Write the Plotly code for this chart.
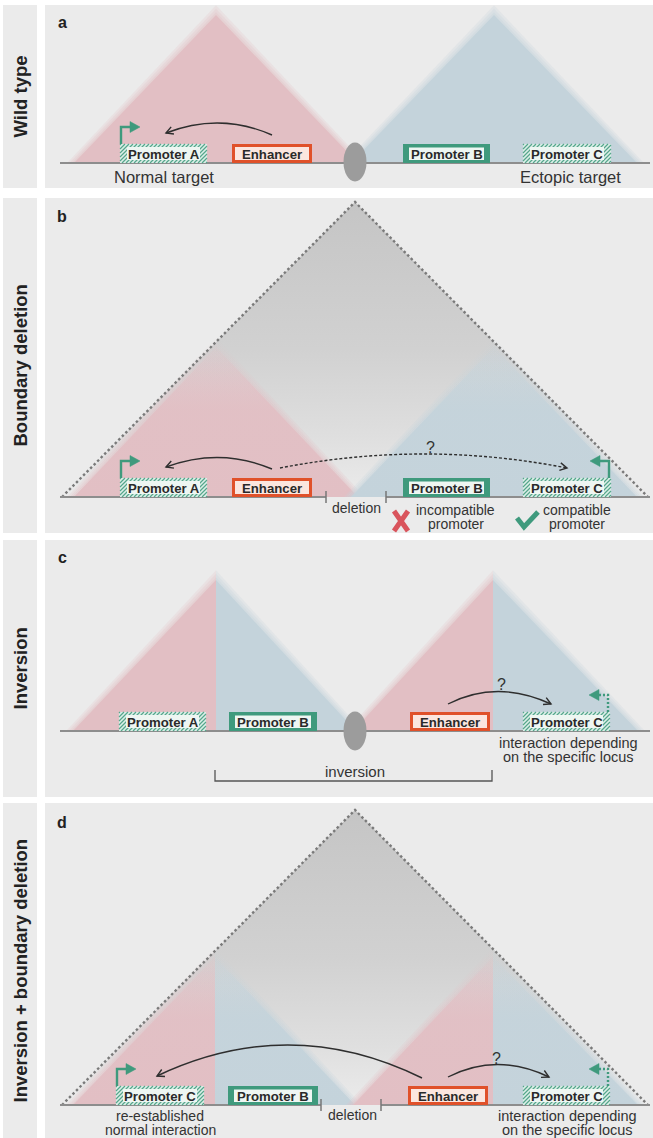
import math
import plotly.graph_objects as go

W, H = 653, 1138
FONT = "Liberation Sans, Arial, sans-serif"

# ---------------- data (labels / texts) ----------------
panel_letters = ["a", "b", "c", "d"]
panel_titles = ["Wild type", "Boundary deletion", "Inversion", "Inversion + boundary deletion"]

labels_a = ["Promoter A", "Enhancer", "Promoter B", "Promoter C"]
labels_b = ["Promoter A", "Enhancer", "Promoter B", "Promoter C"]
labels_c = ["Promoter A", "Promoter B", "Enhancer", "Promoter C"]
labels_d = ["Promoter C", "Promoter B", "Enhancer", "Promoter C"]
kinds_a = ["hatched", "enhancer", "solid", "hatched"]
kinds_b = ["hatched", "enhancer", "solid", "hatched"]
kinds_c = ["hatched", "solid", "enhancer", "hatched"]
kinds_d = ["hatched", "solid", "enhancer", "hatched"]

notes_a = ["Normal target", "Ectopic target"]
notes_b = ["deletion", ["incompatible", "promoter"], ["compatible", "promoter"]]
notes_c = [["interaction depending", "on the specific locus"], "inversion"]
notes_d = [["re-established", "normal interaction"], "deletion",
           ["interaction depending", "on the specific locus"]]
question_mark = "?"

# ---------------- geometry / style ----------------
PANEL_X = (45, 653)
STRIP_X = (3, 37)
PANEL_Y = [(5, 188), (198, 533), (540, 797), (803, 1138)]
BASE_Y = [163, 497, 731, 1105]
LINE_X = (60, 650)
BOX_H = 19
BOX_X = [
    [(120, 207), (232, 312), (403, 490), (523, 611)],
    [(120, 207), (232, 312), (403, 490), (523, 611)],
    [(119, 206), (229, 317), (410, 490), (523, 610)],
    [(116, 204), (228, 318), (408, 488), (523, 610)],
]

BG = "#ebebeb"
PINK = (226, 191, 196)
BLUE = (196, 211, 219)
GREEN = "#3f9a7d"
HATCH_BG = "#dcefe8"
HATCH_LN = "#56a68c"
LABEL_IN = "#eef6f2"
ORANGE = "#e0512a"
ENH_IN = "#fbe6df"
LINE_GRAY = "#8d8d8d"
DARK = "#2e2e2e"
TXT = "#333333"

shapes = []
annotations = []
fig = go.Figure()


def rgba(c, a):
    return f"rgba({c[0]},{c[1]},{c[2]},{a:.3f})"


def rect(x0, y0, x1, y1, fill, layer="above"):
    shapes.append(dict(type="rect", xref="x", yref="y", x0=x0, y0=y0, x1=x1, y1=y1,
                       fillcolor=fill, line=dict(width=0), layer=layer))


def path(d, color=None, width=0, fill=None, dash=None, layer="above"):
    ln = dict(width=width, color=color if color else "rgba(0,0,0,0)")
    if dash:
        ln["dash"] = dash
    shp = dict(type="path", xref="x", yref="y", path=d, line=ln, layer=layer)
    if fill:
        shp["fillcolor"] = fill
    shapes.append(shp)


def ann(text, x, y, size, color=TXT, bold=False, angle=0):
    annotations.append(dict(x=x, y=y, xref="x", yref="y",
                            text=f"<b>{text}</b>" if bold else text,
                            showarrow=False, xanchor="center", yanchor="middle",
                            textangle=angle,
                            font=dict(family=FONT, size=size, color=color)))


def tri_pts(side, ax, ay, hw, base, d):
    top = (ax, ay - 1.4 * d)
    if side == "full":
        pts = [(ax - hw - d, base), top, (ax + hw + d, base)]
    elif side == "left":
        pts = [(ax - hw - d, base), top, (ax, base)]
    else:
        pts = [(ax, base), top, (ax + hw + d, base)]
    pts.append(pts[0])
    return [p[0] for p in pts], [p[1] for p in pts]


def region(side, ax, ay, hw, base, rgb, top_fade=False):
    for d, a in [(7, 0.22), (4.5, 0.25), (2, 0.3), (0, 1.0)]:
        xs, ys = tri_pts(side, ax, ay, hw, base, d)
        kw = dict(x=xs, y=ys, fill="toself", mode="none", hoverinfo="skip", showlegend=False)
        if top_fade:
            kw["fillgradient"] = dict(type="vertical",
                                      colorscale=[[0, rgba(rgb, 0.1 * a)], [0.42, rgba(rgb, 0.9 * a)],
                                                  [1, rgba(rgb, a)]],
                                      start=ay - 1.4 * d, stop=base)
        else:
            kw["fillcolor"] = rgba(rgb, a)
        fig.add_trace(go.Scatter(**kw))


def big_gray(ax, ay, hw, base):
    xs, ys = tri_pts("full", ax, ay, hw, base, 0)
    fig.add_trace(go.Scatter(x=xs, y=ys, fill="toself", mode="none", hoverinfo="skip", showlegend=False,
                             fillgradient=dict(type="vertical",
                                               colorscale=[[0, "rgb(197,197,197)"], [0.5, "rgb(209,209,209)"],
                                                           [0.8, "rgb(223,223,223)"], [1, "rgb(235,235,235)"]],
                                               start=ay, stop=base)))


def dashed_outline(ax, ay, hw, base):
    path(f"M{ax-hw},{base}L{ax},{ay}L{ax+hw},{base}", color="#7a7a7a", width=2.4, dash="2.5px,2.5px")


def baseline(base, gaps=None):
    if gaps is None:
        path(f"M{LINE_X[0]},{base}L{LINE_X[1]},{base}", LINE_GRAY, 2)
    else:
        g0, g1 = gaps
        path(f"M{LINE_X[0]},{base}L{g0},{base}M{g1},{base}L{LINE_X[1]},{base}", LINE_GRAY, 2)
        for gx in gaps:
            path(f"M{gx},{base-6}L{gx},{base+6}", "#777777", 1.5)


def ellipse(cx, cy):
    shapes.append(dict(type="circle", xref="x", yref="y", x0=cx - 11.5, x1=cx + 11.5,
                       y0=cy - 19.5, y1=cy + 19.5, fillcolor="#9c9c9c", line=dict(width=0), layer="above"))


def box(x0, x1, base, kind, label):
    top = base - BOX_H
    if kind == "hatched":
        rect(x0, top, x1, base, HATCH_BG)
        segs = []
        c = x0 + top + 1
        while c < x1 + base:
            xa = max(x0, c - base)
            xb = min(x1, c - top)
            if xb > xa:
                segs.append(f"M{xa:.2f},{c-xa:.2f}L{xb:.2f},{c-xb:.2f}")
            c += 4
        path("".join(segs), HATCH_LN, 1.2)
        rect(x0 + 7, top + 3, x1 - 7, base - 3, LABEL_IN)
    elif kind == "solid":
        rect(x0, top, x1, base, GREEN)
        rect(x0 + 6, top + 3.5, x1 - 6, base - 3, LABEL_IN)
    else:
        rect(x0, top, x1, base, ORANGE)
        rect(x0 + 3, top + 3, x1 - 3, base - 3, ENH_IN)
    ann(label, (x0 + x1) / 2, top + BOX_H / 2 + 0.5, 13.2, color="#2a2a2a", bold=True)


def tss(x, top, direction, dashed=False):
    ytop = top - 17
    xe = x + direction * 9
    path(f"M{x},{top}L{x},{ytop}L{xe},{ytop}", GREEN, 2.4, dash="2px,2px" if dashed else None)
    tip = xe + direction * 10
    path(f"M{xe},{ytop-5.5}L{tip},{ytop}L{xe},{ytop+5.5}Z", GREEN, 0.5, fill=GREEN)


def curved(p0, c, p1, dash=None):
    path(f"M{p0[0]},{p0[1]}Q{c[0]},{c[1]} {p1[0]},{p1[1]}", DARK, 1.4, dash=dash)
    dx, dy = p1[0] - c[0], p1[1] - c[1]
    n = math.hypot(dx, dy)
    ux, uy = -dx / n, -dy / n
    pts = []
    for ang in (0.5, -0.5):
        ca, sa = math.cos(ang), math.sin(ang)
        pts.append((p1[0] + 8 * (ux * ca - uy * sa), p1[1] + 8 * (ux * sa + uy * ca)))
    path(f"M{pts[0][0]:.2f},{pts[0][1]:.2f}L{p1[0]},{p1[1]}L{pts[1][0]:.2f},{pts[1][1]:.2f}", DARK, 1.4)


# ---------------- panel frames ----------------
for i, (y0, y1) in enumerate(PANEL_Y):
    rect(STRIP_X[0], y0, STRIP_X[1], y1, BG, layer="below")
    rect(PANEL_X[0], y0, PANEL_X[1], y1, BG, layer="below")
    ann(panel_titles[i], 20, (y0 + y1) / 2, 18.5, color="#222222", bold=True, angle=-90)
letter_y = [22, 216, 557, 822]
for i, L in enumerate(panel_letters):
    ann(L, 62, letter_y[i], 16, color="#222222", bold=True)

# ---------------- panel a ----------------
b = BASE_Y[0]
region("full", 216, 15, 142, b, PINK)
region("full", 494, 15, 143, b, BLUE)
baseline(b)
ellipse(355, b - 1)
for (x0, x1), k, lab in zip(BOX_X[0], kinds_a, labels_a):
    box(x0, x1, b, k, lab)
tss(BOX_X[0][0][0] + 1, b - BOX_H, +1)
curved((272, 135), (220, 112), (166, 133))
ann(notes_a[0], 164, 177, 16.5)
ann(notes_a[1], 570, 177, 16.5)

# ---------------- panel b ----------------
b = BASE_Y[1]
big_gray(355, 202, 293, b)
region("full", 216, 347, 142, b, PINK, top_fade=True)
region("full", 494, 347, 143, b, BLUE, top_fade=True)
dashed_outline(355, 202, 293, b)
baseline(b, (326, 386))
for (x0, x1), k, lab in zip(BOX_X[1], kinds_b, labels_b):
    box(x0, x1, b, k, lab)
tss(BOX_X[1][0][0] + 1, b - BOX_H, +1)
tss(BOX_X[1][3][1] - 2, b - BOX_H, -1)
curved((272, 469), (220, 447), (166, 467))
curved((280, 468), (424, 440), (567, 468), dash="3px,2px")
ann(question_mark, 430, 447, 16)
ann(notes_b[0], 356, 508, 14)
ann(notes_b[1][0], 455, 510, 14)
ann(notes_b[1][1], 456, 524, 14)
ann(notes_b[2][0], 577, 510, 14)
ann(notes_b[2][1], 577, 524, 14)
path("M394,511L408,531M408,511L394,531", "#d9545c", 5)
path("M517,518L524,527L538,512", GREEN, 5)

# ---------------- panel c ----------------
b = BASE_Y[2]
region("left", 216, 580, 143, b, PINK)
region("right", 216, 580, 140, b, BLUE)
region("left", 493, 580, 140, b, PINK)
region("right", 493, 580, 145, b, BLUE)
baseline(b)
ellipse(355, b)
for (x0, x1), k, lab in zip(BOX_X[2], kinds_c, labels_c):
    box(x0, x1, b, k, lab)
tss(BOX_X[2][3][1] - 2, b - BOX_H, -1, dashed=True)
curved((448, 704), (497, 679), (551, 704))
ann(question_mark, 501, 684, 16)
ann(notes_c[0][0], 568, 743, 14.5)
ann(notes_c[0][1], 568, 757, 14.5)
path("M215,770L215,781L492,781L492,770", "#555555", 1.3)
ann(notes_c[1], 355, 771, 15)

# ---------------- panel d ----------------
b = BASE_Y[3]
big_gray(355, 810, 293, b)
region("left", 215, 957, 142, b, PINK, top_fade=True)
region("right", 215, 957, 140, b, BLUE, top_fade=True)
region("left", 493, 957, 140, b, PINK, top_fade=True)
region("right", 493, 957, 145, b, BLUE, top_fade=True)
dashed_outline(355, 810, 293, b)
baseline(b, (321, 381))
for (x0, x1), k, lab in zip(BOX_X[3], kinds_d, labels_d):
    box(x0, x1, b, k, lab)
tss(BOX_X[3][0][0] + 1, b - BOX_H, +1)
tss(BOX_X[3][3][1] - 2, b - BOX_H, -1, dashed=True)
curved((422, 1078), (290, 1013), (157, 1076))
curved((448, 1077), (497, 1052), (549, 1077))
ann(question_mark, 496, 1058, 16)
ann(notes_d[0][0], 160, 1116, 14)
ann(notes_d[0][1], 160, 1130, 14)
ann(notes_d[1], 352, 1115, 14)
ann(notes_d[2][0], 567, 1116, 14.5)
ann(notes_d[2][1], 567, 1130, 14.5)

fig.update_layout(
    width=W, height=H, margin=dict(l=0, r=0, t=0, b=0),
    paper_bgcolor="white", plot_bgcolor="white", showlegend=False,
    xaxis=dict(range=[0, W], visible=False, fixedrange=True),
    yaxis=dict(range=[H, 0], visible=False, fixedrange=True),
    shapes=shapes, annotations=annotations,
)
fig.write_html("out.html", config={"displayModeBar": False},
               post_script="document.body.style.margin='0px';document.body.style.overflow='hidden';")
